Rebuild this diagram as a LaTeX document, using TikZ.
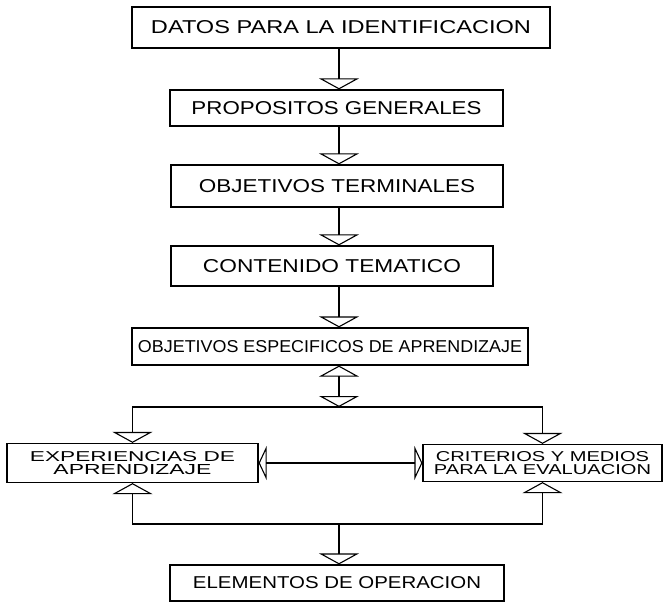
\documentclass[tikz,border=0pt]{standalone}
\usepackage{fontspec}
\setmainfont{Liberation Sans}
\usepackage{graphicx}
\usetikzlibrary{arrows.meta}
\newcommand{\fitt}[3]{\resizebox{#1pt}{#2pt}{#3}}
\begin{document}
\begin{tikzpicture}[x=1pt,y=1pt,
  box/.style={draw, line width=1.2pt, inner sep=0pt, anchor=center},
  conn/.style={line width=1.2pt},
  vt/.tip={Triangle[open,length=11pt,width=40pt,line width=1.1pt]},
  ht/.tip={Triangle[open,length=8pt,width=34pt,line width=1.1pt]},
  vtip/.style={-vt},
  vtipb/.style={vt-vt},
  htip/.style={ht-ht},
  two/.style={align=center, font=\fontsize{10}{13}\selectfont}
]
\useasboundingbox (0,0) rectangle (667,-604);
\fill[white] (0,0) rectangle (667,-604);

\node[box, minimum width=418pt, minimum height=41pt] (b1) at (341,-27.5) {\fitt{380}{13}{DATOS PARA LA IDENTIFICACION}};
\node[box, minimum width=333pt, minimum height=36pt] (b2) at (336.5,-108) {\fitt{290}{13}{PROPOSITOS GENERALES}};
\node[box, minimum width=332pt, minimum height=42pt] (b3) at (337,-186) {\fitt{276}{13}{OBJETIVOS TERMINALES}};
\node[box, minimum width=322pt, minimum height=40pt] (b4) at (332,-266) {\fitt{258}{13}{CONTENIDO TEMATICO}};
\node[box, minimum width=396pt, minimum height=37pt] (b5) at (330,-346.5) {\fitt{384}{12}{OBJETIVOS ESPECIFICOS DE APRENDIZAJE}};
\node[box, two, minimum width=251pt, minimum height=39pt] (exp) at (132.5,-463) {\fitt{205}{10}{EXPERIENCIAS DE}\\\fitt{158}{10}{APRENDIZAJE}};
\node[box, two, minimum width=239pt, minimum height=37pt] (crit) at (542.5,-463) {\fitt{213}{10}{CRITERIOS Y MEDIOS}\\\fitt{217}{10}{PARA LA EVALUACION}};
\node[box, minimum width=334pt, minimum height=36pt] (elem) at (337,-583) {\fitt{288}{12}{ELEMENTOS DE OPERACION}};

\coordinate (jt) at (339,-407);
\coordinate (jb) at (339,-524);

\draw[conn, vtip] (b1.south -| jt) -- (b2.north -| jt);
\draw[conn, vtip] (b2.south -| jt) -- (b3.north -| jt);
\draw[conn, vtip] (b3.south -| jt) -- (b4.north -| jt);
\draw[conn, vtip] (b4.south -| jt) -- (b5.north -| jt);
\draw[conn, vtipb] (b5.south -| jt) -- (jt);
\draw[conn, vtip] (jt) -| (exp.north);
\draw[conn, vtip] (jt) -| (crit.north);
\draw[conn, htip] (exp.east) -- (crit.west);
\draw[conn, vtip] (jb) -| (exp.south);
\draw[conn, vtip] (jb) -| (crit.south);
\draw[conn, vtip] (jb) -- (elem.north -| jb);
\end{tikzpicture}
\end{document}
